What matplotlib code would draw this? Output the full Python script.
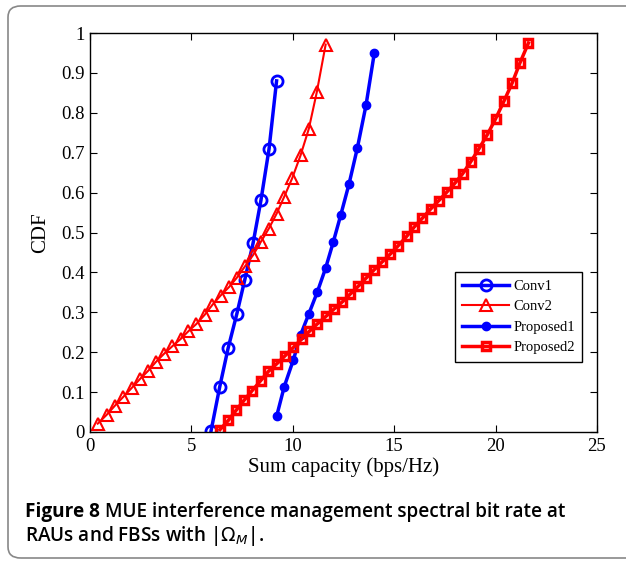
import numpy as np
import matplotlib.pyplot as plt
from matplotlib.patches import FancyBboxPatch

# Conv1 (open circles)
conv1_x = [5.97, 6.40, 6.81, 7.24, 7.63, 8.04, 8.43, 8.83, 9.20]
conv1_y = [0.003, 0.114, 0.210, 0.296, 0.381, 0.473, 0.581, 0.710, 0.880]

# Conv2 (open triangles)
conv2_x = [0.38, 0.82, 1.23, 1.64, 2.05, 2.47, 2.88, 3.24, 3.65, 4.06,
           4.47, 4.84, 5.25, 5.66, 6.04, 6.44, 6.85, 7.23, 7.64, 8.05,
           8.43, 8.82, 9.20, 9.58, 9.97, 10.38, 10.79, 11.18, 11.62]
conv2_y = [0.021, 0.043, 0.066, 0.088, 0.110, 0.133, 0.154, 0.175, 0.196, 0.215,
           0.233, 0.252, 0.271, 0.294, 0.319, 0.342, 0.363, 0.386, 0.415, 0.444,
           0.477, 0.510, 0.547, 0.590, 0.636, 0.693, 0.760, 0.851, 0.971]

# Proposed1 (filled circles)
prop1_x = [9.21, 9.58, 10.03, 10.39, 10.79, 11.21, 11.62, 11.99, 12.36, 12.77,
           13.18, 13.61, 14.02]
prop1_y = [0.041, 0.114, 0.181, 0.244, 0.296, 0.351, 0.411, 0.475, 0.543, 0.621,
           0.711, 0.819, 0.950]

# Proposed2 (squares)
prop2_x = [6.41, 6.82, 7.20, 7.59, 8.00, 8.42, 8.80, 9.21, 9.62, 10.03,
           10.44, 10.81, 11.21, 11.64, 12.05, 12.44, 12.82, 13.22, 13.62, 14.00,
           14.40, 14.79, 15.20, 15.61, 15.99, 16.39, 16.80, 17.20, 17.59, 18.00,
           18.37, 18.77, 19.18, 19.59, 20.00, 20.41, 20.82, 21.20, 21.62]
prop2_y = [0.006, 0.029, 0.054, 0.079, 0.104, 0.129, 0.152, 0.171, 0.191, 0.212,
           0.233, 0.252, 0.271, 0.290, 0.309, 0.326, 0.345, 0.365, 0.386, 0.406,
           0.426, 0.445, 0.467, 0.490, 0.514, 0.536, 0.559, 0.580, 0.601, 0.624,
           0.647, 0.677, 0.710, 0.745, 0.785, 0.829, 0.875, 0.925, 0.975]

x_ticks = [0, 5, 10, 15, 20, 25]
y_ticks = [0, 0.1, 0.2, 0.3, 0.4, 0.5, 0.6, 0.7, 0.8, 0.9, 1]
y_tick_labels = ['0', '0.1', '0.2', '0.3', '0.4', '0.5', '0.6', '0.7', '0.8', '0.9', '1']

plt.rcParams['font.family'] = ['Liberation Serif', 'DejaVu Serif']

fig = plt.figure(figsize=(6.26, 5.61), dpi=100)
ax = fig.add_axes([90 / 626, 1 - 432 / 561, 507 / 626, 399 / 561])

ax.plot(conv1_x, conv1_y, color='blue', lw=2.5, marker='o', ms=8,
        mfc='none', mew=2, label='Conv1')
ax.plot(conv2_x, conv2_y, color='red', lw=1.5, marker='^', ms=8,
        mfc='none', mew=1.5, label='Conv2')
ax.plot(prop1_x, prop1_y, color='blue', lw=2.5, marker='o', ms=6,
        label='Proposed1')
ax.plot(prop2_x, prop2_y, color='red', lw=2.5, marker='s', ms=6,
        mfc='none', mew=2.5, label='Proposed2')

ax.set_xlim(0, 25)
ax.set_ylim(0, 1)
ax.set_xticks(x_ticks)
ax.set_yticks(y_ticks)
ax.set_yticklabels(y_tick_labels)
ax.tick_params(direction='in', top=True, right=True, length=5, labelsize=13.5, pad=4)
for s in ax.spines.values():
    s.set_linewidth(1)
ax.set_xlabel('Sum capacity (bps/Hz)', fontsize=15, labelpad=2)
ax.set_ylabel('CDF', fontsize=15, labelpad=8)

leg = ax.legend(loc='upper right', bbox_to_anchor=(0.971, 0.40), fontsize=10.5,
                fancybox=False, edgecolor='black', framealpha=1,
                handlelength=3.2, borderpad=0.5, labelspacing=0.5,
                handletextpad=0.3, borderaxespad=0)
leg.get_frame().set_linewidth(1)

frame = FancyBboxPatch((8 / 626, 3 / 561), 640 / 626, 552 / 561,
                       boxstyle='round,pad=0,rounding_size=0.02',
                       transform=fig.transFigure, fill=False,
                       edgecolor='#888888', lw=1.2, clip_on=False)
fig.patches.append(frame)

cap_font = ['Open Sans', 'DejaVu Sans']
cap_size = 13.7
t1 = fig.text(25 / 626, 1 - 512 / 561, 'Figure 8', family=cap_font, fontsize=cap_size,
              weight='bold', va='center', ha='left')
fig.canvas.draw()
bb = t1.get_window_extent()
fig.text((bb.x1 + 5) / 626, 1 - 512 / 561, 'MUE interference management spectral bit rate at',
         family=cap_font, fontsize=cap_size, weight=600, va='center', ha='left')
fig.text(25 / 626, 1 - 536 / 561, r'RAUs and FBSs with |$\Omega_M$|.',
         family=cap_font, fontsize=cap_size, weight=600, va='center', ha='left')

fig.savefig('out.png', dpi=100)
